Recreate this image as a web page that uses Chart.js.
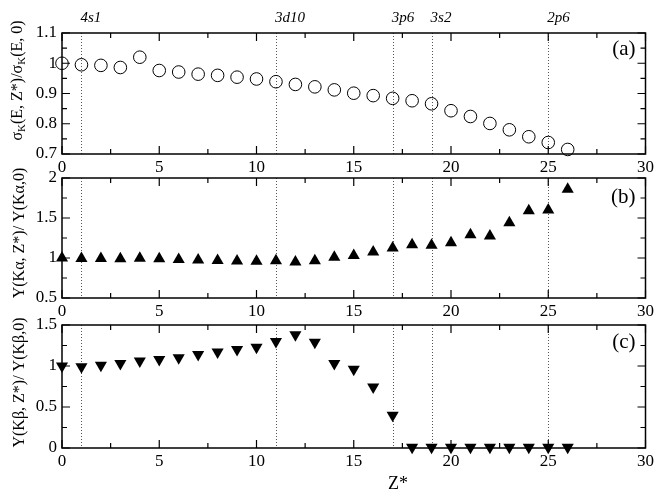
<!DOCTYPE html>
<html>
<head>
<meta charset="utf-8">
<script src="https://cdn.jsdelivr.net/npm/chart.js@4.4.1/dist/chart.umd.min.js"></script>
<style>
  html, body { margin: 0; padding: 0; background: #fff; }
  #wrap { position: relative; width: 657px; height: 498px; }
  #wrap canvas { position: absolute; left: 0; top: 0; }
</style>
</head>
<body>
<div id="wrap">
  <canvas id="panelA" width="657" height="498"></canvas>
  <canvas id="panelB" width="657" height="498"></canvas>
  <canvas id="panelC" width="657" height="498"></canvas>
</div>
<script>
// data
const zStar = [0, 1, 2, 3, 4, 5, 6, 7, 8, 9, 10, 11, 12, 13, 14, 15, 16, 17, 18, 19, 20, 21, 22, 23, 24, 25, 26];
const sigmaRatio = [1.0, 0.995, 0.993, 0.986, 1.02, 0.976, 0.971, 0.964, 0.960, 0.954, 0.948, 0.939, 0.930, 0.922, 0.912, 0.901, 0.893, 0.884, 0.876, 0.866, 0.843, 0.824, 0.801, 0.780, 0.757, 0.738, 0.715];
const yieldKa = [1.0, 0.995, 0.995, 0.99, 0.998, 0.99, 0.982, 0.975, 0.97, 0.962, 0.958, 0.965, 0.95, 0.965, 1.01, 1.03, 1.075, 1.125, 1.165, 1.16, 1.19, 1.29, 1.275, 1.44, 1.59, 1.60, 1.86];
const yieldKb = [1.0, 0.99, 1.01, 1.03, 1.06, 1.08, 1.10, 1.14, 1.17, 1.20, 1.23, 1.30, 1.38, 1.29, 1.03, 0.96, 0.745, 0.40, 0.01, 0.01, 0.01, 0.01, 0.01, 0.01, 0.01, 0.01, 0.01];
const shellZ = [1, 11, 17, 19, 25];
const shellLabels = ['4s1', '3d10', '3p6', '3s2', '2p6'];
const xTickStep = 5;

const serif = '"Liberation Serif", "DejaVu Serif", serif';
const W = 657, H = 498;

function pts(ys) {
  return zStar.map((z, i) => ({ x: z, y: ys[i] }));
}

// text with subscript pieces, drawn rotated
function drawRotatedTitle(ctx, parts, cx, cy, size) {
  ctx.save();
  ctx.translate(cx, cy);
  ctx.rotate(-Math.PI / 2);
  ctx.fillStyle = '#000';
  ctx.textAlign = 'left';
  ctx.textBaseline = 'alphabetic';
  let w = 0;
  parts.forEach(p => {
    ctx.font = (p.sub ? Math.round(size * 0.7) : size) + 'px ' + serif;
    p.w = ctx.measureText(p.t).width;
    w += p.w;
  });
  let x = -w / 2;
  parts.forEach(p => {
    ctx.font = (p.sub ? Math.round(size * 0.7) : size) + 'px ' + serif;
    ctx.fillText(p.t, x, p.sub ? size * 0.55 : size * 0.35);
    x += p.w;
  });
  ctx.restore();
}

function panelPlugin(opt) {
  return {
    id: 'panelDeco',
    beforeDatasetsDraw(chart) {
      const { ctx, chartArea: ca, scales: { x } } = chart;
      ctx.save();
      ctx.strokeStyle = '#555';
      ctx.lineWidth = 1;
      ctx.setLineDash([1, 2]);
      shellZ.forEach(z => {
        const px = Math.round(x.getPixelForValue(z)) + 0.5;
        ctx.beginPath();
        ctx.moveTo(px, ca.top);
        ctx.lineTo(px, ca.bottom);
        ctx.stroke();
      });
      ctx.restore();
    },
    afterDatasetsDraw(chart) {
      const { ctx, chartArea: ca, scales: { x, y } } = chart;
      ctx.save();
      ctx.strokeStyle = '#000';
      ctx.lineWidth = 1.5;
      ctx.strokeRect(ca.left, ca.top, ca.right - ca.left, ca.bottom - ca.top);

      // inward ticks
      ctx.lineWidth = 1.2;
      for (let v = x.min; v <= x.max + 1e-9; v += xTickStep / 2) {
        const len = Math.abs(v % xTickStep) < 1e-6 ? 8 : 5;
        const px = x.getPixelForValue(v);
        ctx.beginPath();
        ctx.moveTo(px, ca.bottom); ctx.lineTo(px, ca.bottom - len);
        ctx.moveTo(px, ca.top); ctx.lineTo(px, ca.top + len);
        ctx.stroke();
      }
      const n = Math.round((y.max - y.min) / opt.yMinor);
      for (let i = 0; i <= n; i++) {
        const v = y.min + i * opt.yMinor;
        const major = i % 2 === 0;
        const len = major ? 8 : 5;
        const py = y.getPixelForValue(v);
        ctx.beginPath();
        ctx.moveTo(ca.left, py); ctx.lineTo(ca.left + len, py);
        ctx.moveTo(ca.right, py); ctx.lineTo(ca.right - len, py);
        ctx.stroke();
      }

      // panel letter
      ctx.fillStyle = '#000';
      ctx.font = '21px ' + serif;
      ctx.textAlign = 'right';
      ctx.textBaseline = 'middle';
      ctx.fillText(opt.letter, ca.right - 10, ca.top + opt.letterDy);

      drawRotatedTitle(ctx, opt.title, opt.titleX, (ca.top + ca.bottom) / 2 + opt.titleDy, 16);

      if (opt.shellText) {
        ctx.font = 'italic 15px ' + serif;
        ctx.textAlign = 'left';
        ctx.textBaseline = 'middle';
        shellZ.forEach((z, i) => {
          ctx.fillText(shellLabels[i], x.getPixelForValue(z) - 1, 18);
        });
      }
      if (opt.xTitle) {
        ctx.font = '18px ' + serif;
        ctx.textAlign = 'center';
        ctx.fillText(opt.xTitle, 398, 484);
      }
      ctx.restore();
    }
  };
}

function makePanel(id, values, point, opt) {
  const fmt = v => String(+Number(v).toFixed(2));
  return new Chart(document.getElementById(id), {
    type: 'scatter',
    data: {
      datasets: [{
        data: pts(values),
        clip: false,
        ...point
      }]
    },
    options: {
      responsive: false,
      animation: false,
      layout: { padding: { top: opt.top, bottom: H - opt.bottom - 24, left: 0, right: 9 } },
      plugins: { legend: { display: false }, tooltip: { enabled: false } },
      scales: {
        x: {
          type: 'linear', min: 0, max: 30,
          grid: { display: false, drawTicks: false }, border: { display: false },
          ticks: { stepSize: xTickStep, color: '#000', font: { family: serif, size: 17 }, padding: 3, maxRotation: 0 },
          afterFit: s => { s.height = 24; }
        },
        y: {
          type: 'linear', min: opt.yMin, max: opt.yMax,
          grid: { display: false, drawTicks: false }, border: { display: false },
          ticks: { stepSize: opt.yMinor * 2, color: '#000', font: { family: serif, size: 17 }, padding: 5, callback: fmt },
          afterFit: s => { s.width = 62; }
        }
      }
    },
    plugins: [panelPlugin(opt)]
  });
}

makePanel('panelA', sigmaRatio,
  { pointStyle: 'circle', pointRadius: 6.3, backgroundColor: 'rgba(0,0,0,0)', borderColor: '#000', borderWidth: 1 },
  { top: 33, bottom: 154, yMin: 0.7, yMax: 1.1, yMinor: 0.05, letter: '(a)', letterDy: 16, titleX: 16, titleDy: -13,
    shellText: true,
    title: [{ t: 'σ' }, { t: 'K', sub: true }, { t: '(E, Z*)/σ' }, { t: 'K', sub: true }, { t: '(E, 0)' }] });

makePanel('panelB', yieldKa,
  { pointStyle: 'triangle', pointRadius: 7, backgroundColor: '#000', borderColor: '#000', borderWidth: 0 },
  { top: 178, bottom: 298, yMin: 0.5, yMax: 2, yMinor: 0.25, letter: '(b)', letterDy: 19, titleX: 18, titleDy: -5,
    title: [{ t: 'Y(Kα, Z*)/ Y(Kα,0)' }] });

makePanel('panelC', yieldKb,
  { pointStyle: 'triangle', rotation: 180, pointRadius: 7, backgroundColor: '#000', borderColor: '#000', borderWidth: 0 },
  { top: 325, bottom: 448, yMin: 0, yMax: 1.5, yMinor: 0.25, letter: '(c)', letterDy: 17, titleX: 18, titleDy: -4,
    xTitle: 'Z*',
    title: [{ t: 'Y(Kβ, Z*)/ Y(Kβ,0)' }] });
</script>
</body>
</html>
